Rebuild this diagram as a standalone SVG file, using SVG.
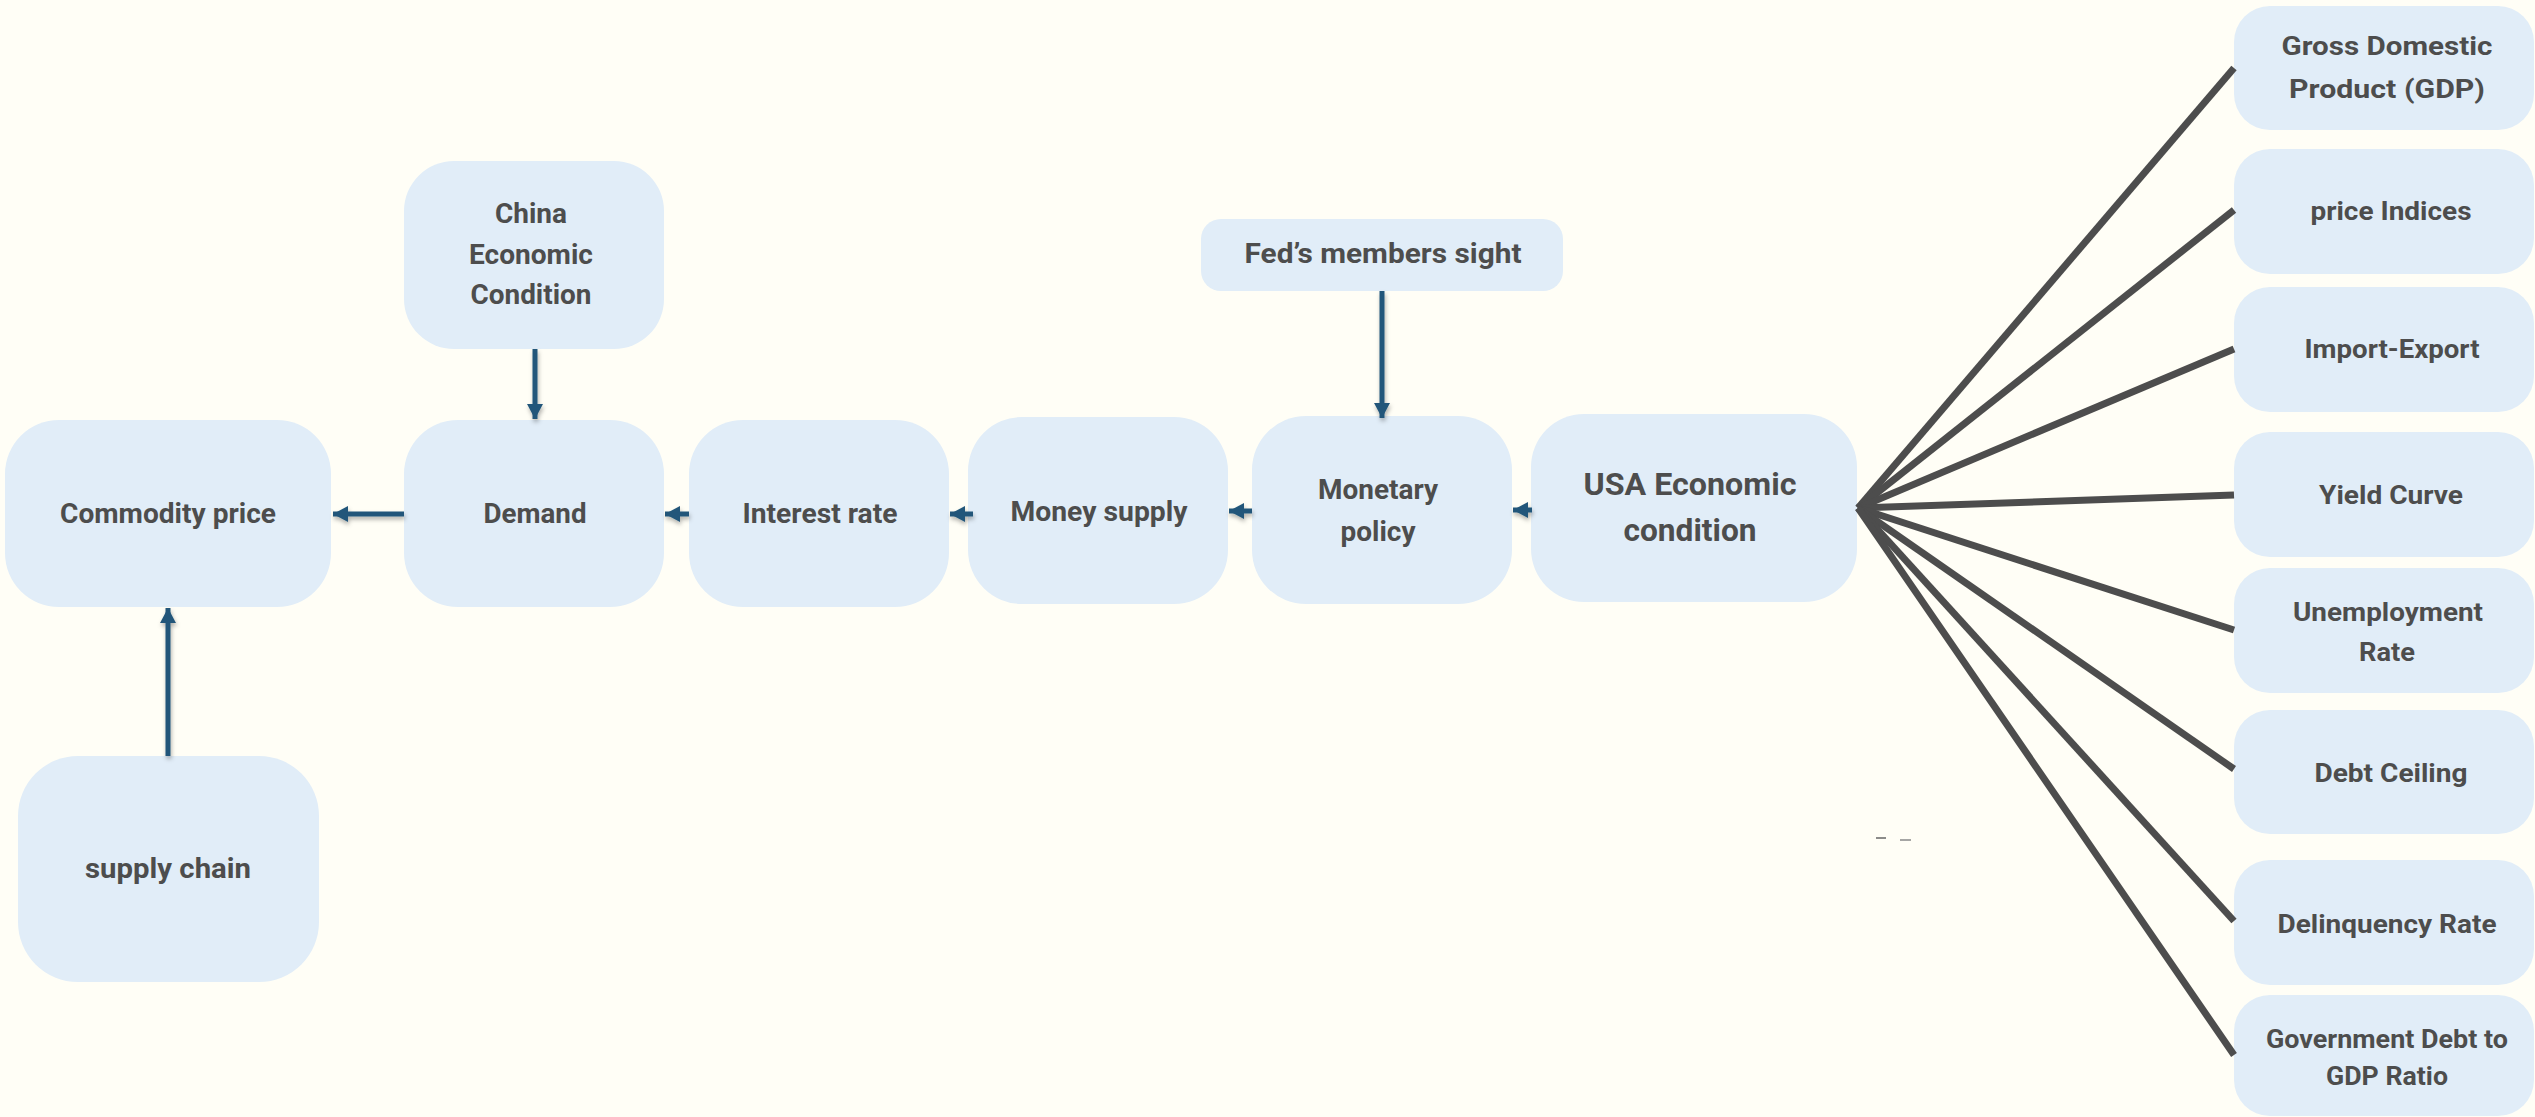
<svg xmlns="http://www.w3.org/2000/svg" width="2535" height="1117" viewBox="0 0 2535 1117">
<style>
.box{fill:#e1edf8}
.t{font-family:Roboto,"Liberation Sans",sans-serif;font-weight:700;fill:#4d4d4d;text-anchor:middle}
.l{font-size:28px}
.r{font-size:26px}
.arr{stroke:#24577a;stroke-width:5;fill:none;marker-end:url(#ah)}
.fan{stroke:#4d4d4d;stroke-width:7;fill:none}
</style>
<defs>
<marker id="ah" markerUnits="userSpaceOnUse" markerWidth="16" markerHeight="16" refX="15" refY="8" orient="auto">
<path d="M0,0 L15,8 L0,16 z" fill="#24577a"/>
</marker>
<filter id="sh" filterUnits="userSpaceOnUse" x="0" y="0" width="2535" height="1117">
<feDropShadow dx="1" dy="3" stdDeviation="2" flood-color="#000" flood-opacity="0.3"/>
</filter>
</defs>
<rect width="2535" height="1117" fill="#fffef6"/>
<g id="nodes">
<g id="commodity"><rect class="box" x="5" y="420" width="326" height="187" rx="54"/><text class="t l" x="168" y="523" textLength="216" lengthAdjust="spacingAndGlyphs">Commodity price</text></g>
<g id="demand"><rect class="box" x="404" y="420" width="260" height="187" rx="54"/><text class="t l" x="535" y="523" textLength="103" lengthAdjust="spacingAndGlyphs">Demand</text></g>
<g id="china"><rect class="box" x="404" y="161" width="260" height="188" rx="50"/><text class="t l" x="531" y="223" textLength="72" lengthAdjust="spacingAndGlyphs">China</text><text class="t l" x="531" y="264" textLength="124" lengthAdjust="spacingAndGlyphs">Economic</text><text class="t l" x="531" y="304" textLength="121" lengthAdjust="spacingAndGlyphs">Condition</text></g>
<g id="interest"><rect class="box" x="689" y="420" width="260" height="187" rx="54"/><text class="t l" x="820" y="523" textLength="155" lengthAdjust="spacingAndGlyphs">Interest rate</text></g>
<g id="money"><rect class="box" x="968" y="417" width="260" height="187" rx="54"/><text class="t l" x="1099" y="521" textLength="177" lengthAdjust="spacingAndGlyphs">Money supply</text></g>
<g id="monetary"><rect class="box" x="1252" y="416" width="260" height="188" rx="54"/><text class="t l" x="1378" y="499" textLength="120" lengthAdjust="spacingAndGlyphs">Monetary</text><text class="t l" x="1378" y="541" textLength="75" lengthAdjust="spacingAndGlyphs">policy</text></g>
<g id="fed"><rect class="box" x="1201" y="219" width="362" height="72" rx="20"/><text class="t l" x="1383" y="263" textLength="277" lengthAdjust="spacingAndGlyphs">Fed’s members sight</text></g>
<g id="usa"><rect class="box" x="1531" y="414" width="326" height="188" rx="53"/><text class="t" style="font-size:32px" x="1690" y="495" textLength="213" lengthAdjust="spacingAndGlyphs">USA Economic</text><text class="t" style="font-size:32px" x="1690" y="541" textLength="133" lengthAdjust="spacingAndGlyphs">condition</text></g>
<g id="supply"><rect class="box" x="18" y="756" width="301" height="226" rx="60"/><text class="t l" x="168" y="878" textLength="166" lengthAdjust="spacingAndGlyphs">supply chain</text></g>
<g id="gdp"><rect class="box" x="2234" y="6" width="300" height="124" rx="36"/><text class="t r" x="2387" y="55" textLength="211" lengthAdjust="spacingAndGlyphs">Gross Domestic</text><text class="t r" x="2387" y="98" textLength="196" lengthAdjust="spacingAndGlyphs">Product (GDP)</text></g>
<g id="price"><rect class="box" x="2234" y="149" width="300" height="125" rx="36"/><text class="t r" x="2391" y="220" textLength="161" lengthAdjust="spacingAndGlyphs">price Indices</text></g>
<g id="import"><rect class="box" x="2234" y="287" width="300" height="125" rx="36"/><text class="t r" x="2392" y="358" textLength="175" lengthAdjust="spacingAndGlyphs">Import-Export</text></g>
<g id="yield"><rect class="box" x="2234" y="432" width="300" height="125" rx="36"/><text class="t r" x="2391" y="504" textLength="144" lengthAdjust="spacingAndGlyphs">Yield Curve</text></g>
<g id="unemployment"><rect class="box" x="2234" y="568" width="300" height="125" rx="36"/><text class="t r" x="2388" y="621" textLength="190" lengthAdjust="spacingAndGlyphs">Unemployment</text><text class="t r" x="2387" y="661" textLength="56" lengthAdjust="spacingAndGlyphs">Rate</text></g>
<g id="debt"><rect class="box" x="2234" y="710" width="300" height="124" rx="36"/><text class="t r" x="2391" y="782" textLength="153" lengthAdjust="spacingAndGlyphs">Debt Ceiling</text></g>
<g id="delinquency"><rect class="box" x="2234" y="860" width="300" height="125" rx="36"/><text class="t r" x="2387" y="933" textLength="219" lengthAdjust="spacingAndGlyphs">Delinquency Rate</text></g>
<g id="govdebt"><rect class="box" x="2234" y="995" width="300" height="121" rx="36"/><text class="t r" x="2387" y="1048" textLength="242" lengthAdjust="spacingAndGlyphs">Government Debt to</text><text class="t r" x="2387" y="1085" textLength="122" lengthAdjust="spacingAndGlyphs">GDP Ratio</text></g>
</g>
<g id="connectors">
<g filter="url(#sh)">
<line class="arr" x1="404" y1="514" x2="333" y2="514"/>
<line class="arr" x1="689" y1="514" x2="665" y2="514"/>
<line class="arr" x1="973" y1="514" x2="950" y2="514"/>
<line class="arr" x1="1252" y1="511" x2="1229" y2="511"/>
<line class="arr" x1="1532" y1="510" x2="1513" y2="510"/>
<line class="arr" x1="1382" y1="291" x2="1382" y2="418"/>
<line class="arr" x1="535" y1="349" x2="535" y2="419"/>
<line class="arr" x1="168" y1="756" x2="168" y2="608"/>
</g>
<g class="fan">
<line x1="1858" y1="508" x2="2234" y2="68"/>
<line x1="1858" y1="508" x2="2234" y2="210"/>
<line x1="1858" y1="508" x2="2234" y2="349"/>
<line x1="1858" y1="508" x2="2234" y2="495"/>
<line x1="1858" y1="508" x2="2234" y2="630"/>
<line x1="1858" y1="508" x2="2234" y2="769"/>
<line x1="1858" y1="508" x2="2234" y2="921"/>
<line x1="1858" y1="508" x2="2234" y2="1055"/>
</g>
<line x1="1876" y1="838" x2="1886" y2="838" stroke="#666" stroke-width="1.5"/>
<line x1="1900" y1="840" x2="1911" y2="840" stroke="#888" stroke-width="1.5"/>
</g>
</svg>
